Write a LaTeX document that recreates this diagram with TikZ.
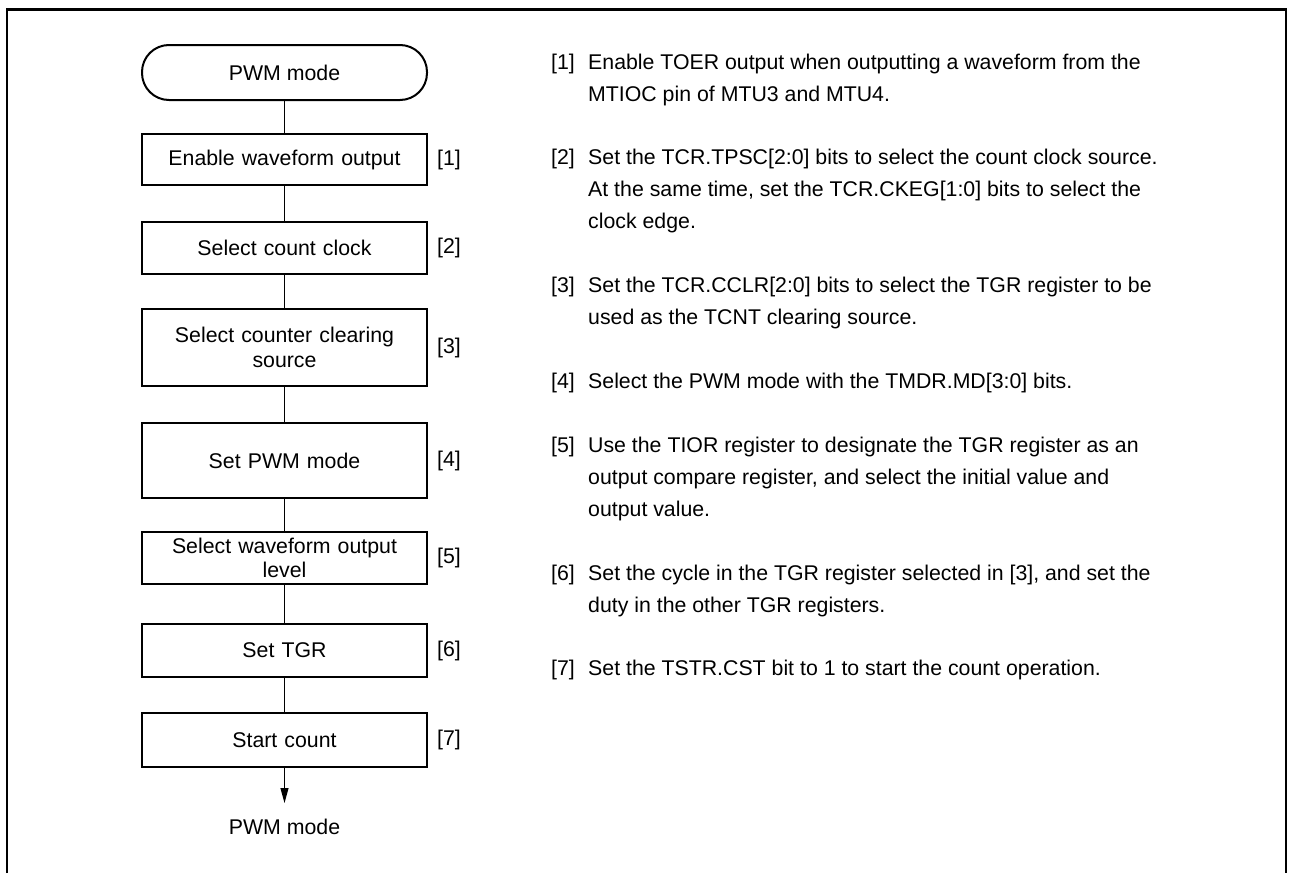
\documentclass[tikz,border=0pt]{standalone}
\usepackage{fontspec}
\setmainfont{Liberation Sans}
\usetikzlibrary{arrows.meta}
\begin{document}
\begin{tikzpicture}[x=1pt,y=-1pt,
  every node/.style={font=\fontsize{21.3pt}{24.5pt}\selectfont, inner sep=0pt},
  stepbox/.style={draw, line width=2pt, minimum width=285pt, align=center, text width=275pt},
  termbox/.style={draw, line width=2pt, rounded corners=27pt, minimum width=285pt, minimum height=55pt},
  conn/.style={line width=1pt},
  tag/.style={anchor=west},
  desc/.style={anchor=base west}
]
\useasboundingbox (0,0) rectangle (1290,873);
% frame
\draw[line width=2pt] (7,873) -- (7,9);
\draw[line width=2pt] (1286,9) -- (1286,873);
\draw[line width=3pt] (6,9) -- (1287,9);

% flowchart
\node[termbox] (t0) at (284.5,72.5) {PWM mode};
\node[stepbox, minimum height=51pt] (b1) at (284.5,159.5) {Enable waveform output};
\node[stepbox, minimum height=52pt] (b2) at (284.5,248) {Select count clock};
\node[stepbox, minimum height=77pt] (b3) at (284.5,347.5) {Select counter clearing\\source};
\node[stepbox, minimum height=75pt] (b4) at (284.5,460.5) {Set PWM mode};
\node[stepbox, minimum height=52pt] (b5) at (284.5,558) {Select waveform output\\level};
\node[stepbox, minimum height=53pt] (b6) at (284.5,650.5) {Set TGR};
\node[stepbox, minimum height=54pt] (b7) at (284.5,740) {Start count};
\coordinate (tip) at (284.5,803);
\node (end) at (284.5,827) {PWM mode};

\draw[conn] (t0) -- (b1);
\draw[conn] (b1) -- (b2);
\draw[conn] (b2) -- (b3);
\draw[conn] (b3) -- (b4);
\draw[conn] (b4) -- (b5);
\draw[conn] (b5) -- (b6);
\draw[conn] (b6) -- (b7);
\draw[conn, -{Triangle[length=15pt,width=8pt]}] (b7) -- (tip);

% step tags
\node[tag] (l1) at (437,159.5) {[1]};
\node[tag] (l2) at (437,248) {[2]};
\node[tag] (l3) at (437,347.5) {[3]};
\node[tag] (l4) at (437,460.5) {[4]};
\node[tag] (l5) at (437,558) {[5]};
\node[tag] (l6) at (437,650.5) {[6]};
\node[tag] (l7) at (437,740) {[7]};

% descriptions
\node[desc] (n1) at (551,69) {[1]};
\node[desc] (d1a) at (588,69) {Enable TOER output when outputting a waveform from the};
\node[desc] (d1b) at (588,101) {MTIOC pin of MTU3 and MTU4.};

\node[desc] (n2) at (551,164) {[2]};
\node[desc] (d2a) at (588,164) {Set the TCR.TPSC[2:0] bits to select the count clock source.};
\node[desc] (d2b) at (588,196) {At the same time, set the TCR.CKEG[1:0] bits to select the};
\node[desc] (d2c) at (588,228) {clock edge.};

\node[desc] (n3) at (551,292) {[3]};
\node[desc] (d3a) at (588,292) {Set the TCR.CCLR[2:0] bits to select the TGR register to be};
\node[desc] (d3b) at (588,324) {used as the TCNT clearing source.};

\node[desc] (n4) at (551,388) {[4]};
\node[desc] (d4a) at (588,388) {Select the PWM mode with the TMDR.MD[3:0] bits.};

\node[desc] (n5) at (551,452) {[5]};
\node[desc] (d5a) at (588,452) {Use the TIOR register to designate the TGR register as an};
\node[desc] (d5b) at (588,484) {output compare register, and select the initial value and};
\node[desc] (d5c) at (588,516) {output value.};

\node[desc] (n6) at (551,580) {[6]};
\node[desc] (d6a) at (588,580) {Set the cycle in the TGR register selected in [3], and set the};
\node[desc] (d6b) at (588,612) {duty in the other TGR registers.};

\node[desc] (n7) at (551,675) {[7]};
\node[desc] (d7a) at (588,675) {Set the TSTR.CST bit to 1 to start the count operation.};
\end{tikzpicture}
\end{document}
